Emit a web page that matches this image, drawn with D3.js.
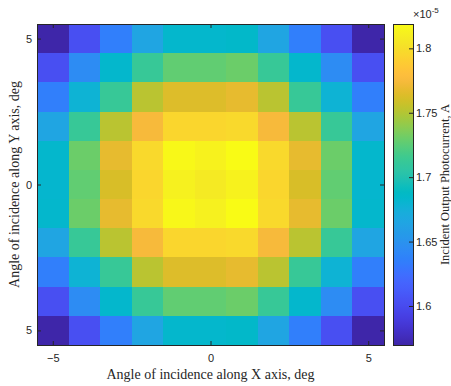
<!DOCTYPE html>
<html>
<head>
<meta charset="utf-8">
<script src="https://cdn.jsdelivr.net/npm/d3@7"></script>
<style>
  body { margin: 0; background: #fff; }
  text { fill: #262626; }
</style>
</head>
<body>
<div id="chart"></div>
<script>
// angles, deg
var xAngles = [-5, -4, -3, -2, -1, 0, 1, 2, 3, 4, 5];
var yAngles = [5, 4, 3, 2, 1, 0, -1, -2, -3, -4, -5];
var xTicks = [-5, 0, 5];
var yTicks = [5, 0, -5];
var yTickLabels = ["5", "0", "5"];
var cbTicks = [1.6, 1.65, 1.7, 1.75, 1.8];

// photocurrent, x1e-5 A (rows top to bottom)
var current = [
  [1.570, 1.603, 1.635, 1.665, 1.683, 1.683, 1.685, 1.665, 1.635, 1.603, 1.570],
  [1.603, 1.645, 1.683, 1.712, 1.727, 1.727, 1.730, 1.712, 1.683, 1.645, 1.603],
  [1.635, 1.678, 1.712, 1.752, 1.764, 1.764, 1.768, 1.752, 1.712, 1.678, 1.635],
  [1.665, 1.712, 1.752, 1.775, 1.795, 1.795, 1.797, 1.775, 1.752, 1.712, 1.665],
  [1.683, 1.730, 1.768, 1.797, 1.817, 1.813, 1.819, 1.797, 1.768, 1.730, 1.683],
  [1.682, 1.727, 1.762, 1.795, 1.812, 1.808, 1.813, 1.795, 1.762, 1.727, 1.682],
  [1.683, 1.730, 1.768, 1.797, 1.816, 1.812, 1.819, 1.797, 1.768, 1.730, 1.683],
  [1.665, 1.712, 1.752, 1.775, 1.795, 1.795, 1.797, 1.775, 1.752, 1.712, 1.665],
  [1.635, 1.678, 1.712, 1.752, 1.764, 1.764, 1.768, 1.752, 1.712, 1.678, 1.635],
  [1.603, 1.645, 1.683, 1.712, 1.727, 1.727, 1.730, 1.712, 1.683, 1.645, 1.603],
  [1.570, 1.603, 1.635, 1.665, 1.683, 1.683, 1.685, 1.665, 1.635, 1.603, 1.570]
];
var cMin = 1.5697, cMax = 1.8189;

// parula (64 entries)
var parula = [
[0.2422,0.1504,0.6603],[0.2504,0.1650,0.7076],[0.2578,0.1818,0.7511],[0.2647,0.1978,0.7952],
[0.2706,0.2147,0.8364],[0.2751,0.2342,0.8710],[0.2783,0.2559,0.8991],[0.2803,0.2782,0.9221],
[0.2813,0.3006,0.9414],[0.2810,0.3228,0.9579],[0.2795,0.3447,0.9717],[0.2760,0.3667,0.9829],
[0.2699,0.3892,0.9906],[0.2602,0.4123,0.9952],[0.2440,0.4358,0.9988],[0.2206,0.4603,0.9973],
[0.1963,0.4847,0.9892],[0.1834,0.5074,0.9798],[0.1786,0.5289,0.9682],[0.1764,0.5499,0.9520],
[0.1687,0.5703,0.9359],[0.1540,0.5902,0.9218],[0.1460,0.6091,0.9079],[0.1380,0.6276,0.8973],
[0.1248,0.6459,0.8883],[0.1113,0.6635,0.8763],[0.0952,0.6798,0.8598],[0.0689,0.6948,0.8394],
[0.0297,0.7082,0.8163],[0.0036,0.7203,0.7917],[0.0067,0.7312,0.7660],[0.0433,0.7411,0.7394],
[0.0964,0.7500,0.7120],[0.1408,0.7584,0.6842],[0.1717,0.7670,0.6554],[0.1938,0.7758,0.6251],
[0.2161,0.7843,0.5923],[0.2470,0.7918,0.5567],[0.2906,0.7973,0.5188],[0.3406,0.8008,0.4789],
[0.3909,0.8029,0.4354],[0.4456,0.8024,0.3909],[0.5044,0.7993,0.3480],[0.5616,0.7942,0.3045],
[0.6174,0.7876,0.2612],[0.6720,0.7793,0.2227],[0.7242,0.7698,0.1910],[0.7738,0.7598,0.1646],
[0.8203,0.7498,0.1535],[0.8634,0.7406,0.1596],[0.9035,0.7330,0.1774],[0.9393,0.7288,0.2100],
[0.9728,0.7298,0.2394],[0.9956,0.7434,0.2371],[0.9970,0.7659,0.2199],[0.9952,0.7893,0.2028],
[0.9892,0.8136,0.1885],[0.9786,0.8386,0.1766],[0.9676,0.8639,0.1643],[0.9610,0.8890,0.1537],
[0.9597,0.9135,0.1423],[0.9628,0.9373,0.1265],[0.9691,0.9606,0.1064],[0.9769,0.9839,0.0805]
].map(c => d3.rgb(c[0]*255, c[1]*255, c[2]*255).formatHex());

var svgWidth = 451, svgHeight = 386;
var plot = {left: 37, right: 384, top: 24, bottom: 345};
var cb = {left: 393, right: 413};

var svg = d3.select("#chart").append("svg")
  .attr("width", svgWidth)
  .attr("height", svgHeight)
  .style("font-family", "'Liberation Sans', Arial, sans-serif");

var xScale = d3.scaleLinear().domain([-5.5, 5.5]).range([plot.left, plot.right]);
var yScale = d3.scaleLinear().domain([-5.5, 5.5]).range([plot.bottom, plot.top]);
var cInterp = d3.interpolateRgbBasis(parula);
var color = d3.scaleSequential(cInterp).domain([cMin, cMax]).clamp(true);

// cells
var cells = [];
current.forEach((row, i) => row.forEach((v, j) => cells.push({x: xAngles[j], y: yAngles[i], v: v})));

svg.append("g")
  .selectAll("rect")
  .data(cells)
  .enter()
  .append("rect")
  .attr("x", d => xScale(d.x - 0.5))
  .attr("y", d => yScale(d.y + 0.5))
  .attr("width", d => xScale(d.x + 0.5) - xScale(d.x - 0.5) + 0.5)
  .attr("height", d => yScale(d.y - 0.5) - yScale(d.y + 0.5) + 0.5)
  .attr("fill", d => color(d.v))
  .attr("shape-rendering", "crispEdges");

// axes, ticks inward on all sides
var tickLen = 4;
var axisColor = "#262626";

function styleAxis(g) {
  g.select(".domain").remove();
  g.selectAll("line").attr("stroke", axisColor);
  g.selectAll("text").attr("font-size", 11).style("fill", axisColor);
}

svg.append("g")
  .attr("transform", `translate(0, ${plot.bottom})`)
  .call(d3.axisBottom(xScale).tickValues(xTicks).tickSizeInner(-tickLen).tickSizeOuter(0).tickPadding(9).tickFormat(d3.format("d")))
  .call(styleAxis);
svg.append("g")
  .attr("transform", `translate(0, ${plot.top})`)
  .call(d3.axisTop(xScale).tickValues(xTicks).tickSizeInner(-tickLen).tickSizeOuter(0).tickFormat(""))
  .call(styleAxis);
svg.append("g")
  .attr("transform", `translate(${plot.left}, 0)`)
  .call(d3.axisLeft(yScale).tickValues(yTicks).tickSizeInner(-tickLen).tickSizeOuter(0).tickPadding(5)
    .tickFormat((d, i) => yTickLabels[i]))
  .call(styleAxis);
svg.append("g")
  .attr("transform", `translate(${plot.right}, 0)`)
  .call(d3.axisRight(yScale).tickValues(yTicks).tickSizeInner(-tickLen).tickSizeOuter(0).tickFormat(""))
  .call(styleAxis);

svg.append("rect")
  .attr("x", plot.left).attr("y", plot.top)
  .attr("width", plot.right - plot.left).attr("height", plot.bottom - plot.top)
  .attr("fill", "none").attr("stroke", axisColor).attr("stroke-width", 1)
  .attr("shape-rendering", "crispEdges");

// axis labels
svg.append("text")
  .attr("x", (plot.left + plot.right) / 2)
  .attr("y", 379)
  .attr("text-anchor", "middle")
  .attr("font-family", "'Liberation Serif', 'DejaVu Serif', serif")
  .attr("font-size", 14)
  .text("Angle of incidence along X axis, deg");

svg.append("text")
  .attr("transform", `translate(19, ${(plot.top + plot.bottom) / 2}) rotate(-90)`)
  .attr("text-anchor", "middle")
  .attr("font-family", "'Liberation Serif', 'DejaVu Serif', serif")
  .attr("font-size", 14)
  .text("Angle of incidence along Y axis, deg");

// colorbar
var cbScale = d3.scaleLinear().domain([cMin, cMax]).range([plot.bottom, plot.top]);
var defs = svg.append("defs");
var grad = defs.append("linearGradient")
  .attr("id", "cbgrad")
  .attr("x1", 0).attr("y1", 1).attr("x2", 0).attr("y2", 0);
d3.range(0, 1.0001, 1 / 63).forEach(t => {
  grad.append("stop").attr("offset", t).attr("stop-color", cInterp(t));
});

svg.append("rect")
  .attr("x", cb.left).attr("y", plot.top)
  .attr("width", cb.right - cb.left).attr("height", plot.bottom - plot.top)
  .attr("fill", "url(#cbgrad)");

svg.append("g")
  .attr("transform", `translate(${cb.right}, 0)`)
  .call(d3.axisRight(cbScale).tickValues(cbTicks).tickSizeInner(-tickLen).tickSizeOuter(0).tickPadding(3)
    .tickFormat(d3.format("")))
  .call(styleAxis);

svg.append("rect")
  .attr("x", cb.left).attr("y", plot.top)
  .attr("width", cb.right - cb.left).attr("height", plot.bottom - plot.top)
  .attr("fill", "none").attr("stroke", axisColor).attr("stroke-width", 1)
  .attr("shape-rendering", "crispEdges");

var expo = svg.append("text")
  .attr("x", 413)
  .attr("y", 18)
  .attr("font-size", 11)
  .style("fill", axisColor);
expo.append("tspan").text("\u00d710");
expo.append("tspan").attr("dy", -5).attr("font-size", 8).text("-5");

svg.append("text")
  .attr("transform", `translate(449, ${(plot.top + plot.bottom) / 2}) rotate(-90)`)
  .attr("text-anchor", "middle")
  .attr("font-family", "'Liberation Serif', 'DejaVu Serif', serif")
  .attr("font-size", 12.5)
  .text("Incident Output Photocurrent, A");
</script>
</body>
</html>
